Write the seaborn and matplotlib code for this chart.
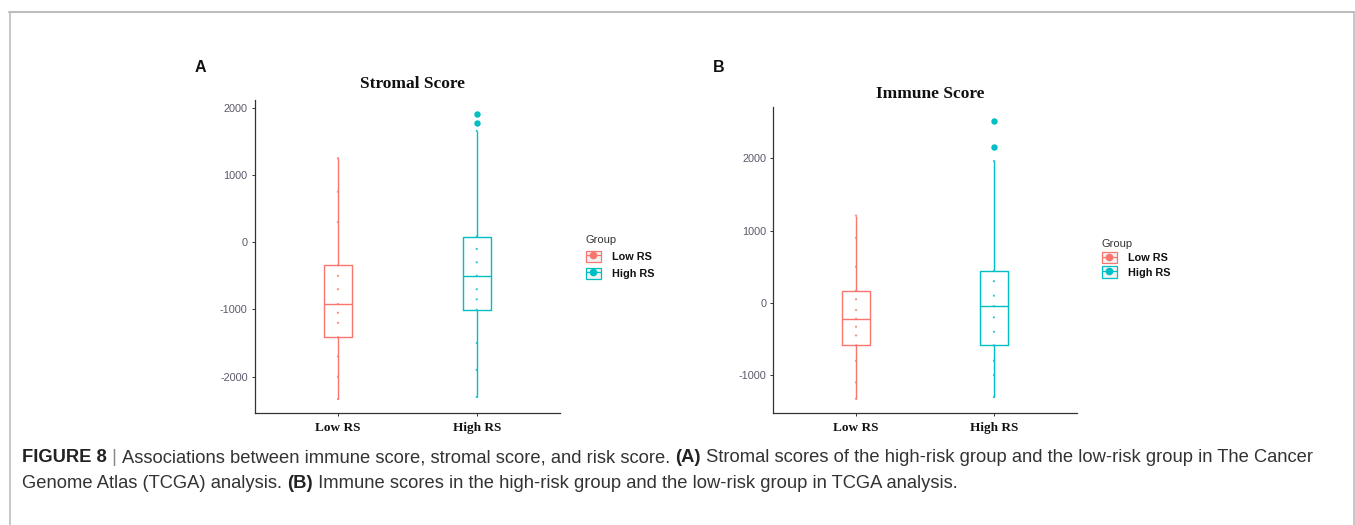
import matplotlib
matplotlib.use("Agg")
import matplotlib.pyplot as plt
from matplotlib.patches import Rectangle
from matplotlib.lines import Line2D
from matplotlib.legend_handler import HandlerTuple
import seaborn as sns
import pandas as pd

# ---------------- data ----------------
groups = ["Low RS", "High RS"]
colors = ["#F8766D", "#00BFC4"]

stromal_low = [-2333, -2000, -1700, -1415, -1200, -1050, -921, -700, -500, -345, 300, 750, 1248]
stromal_high = [-2303, -1900, -1500, -1006, -850, -700, -500, -300, -100, 83, 1654, 1768, 1902]
immune_low = [-1327, -1100, -800, -587, -450, -330, -220, -100, 50, 171, 500, 900, 1208]
immune_high = [-1303, -1000, -800, -587, -400, -200, -45, 100, 300, 441, 1963, 2155, 2522]

stromal_ticks = [-2000, -1000, 0, 1000, 2000]
immune_ticks = [-1000, 0, 1000, 2000]

titles = ["Stromal Score", "Immune Score"]
panel_labels = ["A", "B"]

W, H = 1355, 525
sns.set_theme(style="white")
plt.rcParams["font.family"] = ["Liberation Sans", "DejaVu Sans"]

fig = plt.figure(figsize=(W / 100, H / 100), dpi=100)
fig.patch.set_facecolor("white")


def fx(px):
    return px / W


def fy(py):
    return 1 - py / H


def make_df(low, high):
    return pd.DataFrame({
        "Group": [groups[0]] * len(low) + [groups[1]] * len(high),
        "Score": list(low) + list(high),
    })


panels = [
    dict(df=make_df(stromal_low, stromal_high), ticks=stromal_ticks,
         box=(254.7, 100.0, 560.0, 413.3), title_xy=(412, 84), label_xy=(200, 68),
         legend_xy=(576, 225), spacing=0.55),
    dict(df=make_df(immune_low, immune_high), ticks=immune_ticks,
         box=(773.3, 106.7, 1076.7, 412.7), title_xy=(930, 94), label_xy=(719, 68),
         legend_xy=(1092, 229), spacing=0.3),
]

for i, p in enumerate(panels):
    l, t, r, b = p["box"]
    ax = fig.add_axes([fx(l), fy(b), fx(r - l), (b - t) / H])
    df = p["df"]
    sns.boxplot(data=df, x="Group", y="Score", hue="Group", order=groups,
                hue_order=groups, palette=colors, fill=False, width=0.2,
                linewidth=1.0, whis=1.5, legend=False, ax=ax, showcaps=False,
                flierprops=dict(marker="o", markersize=3.6))
    # filled outlier points, lighter box outlines
    for ln in ax.lines:
        if ln.get_marker() == "o":
            ln.set_markerfacecolor(ln.get_markeredgecolor())
    for patch in ax.patches:
        patch.set_alpha(0.7)
    sns.stripplot(data=df, x="Group", y="Score", hue="Group", order=groups,
                  hue_order=groups, palette=colors, jitter=False, size=1.6,
                  legend=False, ax=ax, alpha=0.8)

    vals = df["Score"]
    lo, hi = vals.min(), vals.max()
    pad = 0.05 * (hi - lo)
    ax.set_ylim(lo - pad, hi + pad)
    ax.set_xlim(-0.6, 1.6)
    ax.set_yticks(p["ticks"])
    ax.set_yticklabels([str(v) for v in p["ticks"]])
    ax.set_xlabel("")
    ax.set_ylabel("")
    for side in ["top", "right"]:
        ax.spines[side].set_visible(False)
    for side in ["left", "bottom"]:
        ax.spines[side].set_color("#333333")
        ax.spines[side].set_linewidth(0.9)
    ax.tick_params(axis="y", which="major", left=True, length=2.5, width=0.7,
                   color="#333333", pad=2.5, labelsize=7.8, labelcolor="#5a5a6a")
    ax.tick_params(axis="x", which="major", bottom=True, length=2.5, width=0.7,
                   color="#333333", pad=4)
    for lab in ax.get_xticklabels():
        lab.set_fontfamily("Liberation Serif")
        lab.set_fontweight("bold")
        lab.set_fontsize(9.5)
        lab.set_color("#111111")
    ax.set_facecolor("white")

    fig.text(fx(p["title_xy"][0]), fy(p["title_xy"][1]), titles[i],
             ha="center", va="center", family="Liberation Serif",
             fontweight="bold", fontsize=12.5, color="#111111")
    fig.text(fx(p["label_xy"][0]), fy(p["label_xy"][1]), panel_labels[i],
             ha="center", va="center", fontweight="bold", fontsize=11.5,
             color="#111111")

    handles = []
    for c in colors:
        rect = Rectangle((0, 0), 1, 1, facecolor="#F2F2F2", edgecolor="none")
        box = Rectangle((0, 0), 1, 1, fill=False, edgecolor=c, lw=0.9)
        pt = Line2D([], [], color=c, marker="o", markersize=4.5, lw=0.9)
        handles.append((rect, box, pt))
    leg = ax.legend(handles, groups, title="Group", loc="upper left",
                    bbox_to_anchor=(fx(p["legend_xy"][0]), fy(p["legend_xy"][1])),
                    bbox_transform=fig.transFigure, frameon=False,
                    handler_map={tuple: HandlerTuple(ndivide=1, pad=0)},
                    handlelength=1.4, handleheight=1.2, handletextpad=1.0,
                    labelspacing=p["spacing"], alignment="left", fontsize=7.8,
                    title_fontsize=8)
    for txt in leg.get_texts():
        txt.set_fontweight("bold")
        txt.set_color("#111111")
    leg.get_title().set_color("#333333")

# ---------------- outer frame ----------------
fc = "#BDBDBD"
fig.add_artist(Line2D([fx(9), fx(1354)], [fy(12), fy(12)], color=fc, lw=1.5,
                      transform=fig.transFigure))
fig.add_artist(Line2D([fx(9.5), fx(9.5)], [fy(12), 0], color=fc, lw=1.2,
                      transform=fig.transFigure))
fig.add_artist(Line2D([fx(1353.5), fx(1353.5)], [fy(12), 0], color=fc, lw=1.2,
                      transform=fig.transFigure))

# ---------------- caption ----------------
line1 = [("FIGURE 8", "bold", "#222222"), (" | ", "normal", "#888888"),
         ("Associations between immune score, stromal score, and risk score. ", "normal", "#333333"),
         ("(A)", "bold", "#222222"),
         (" Stromal scores of the high-risk group and the low-risk group in The Cancer", "normal", "#333333")]
line2 = [("Genome Atlas (TCGA) analysis. ", "normal", "#333333"), ("(B)", "bold", "#222222"),
         (" Immune scores in the high-risk group and the low-risk group in TCGA analysis.", "normal", "#333333")]

renderer = fig.canvas.get_renderer()


def draw_line(parts, x0, y, size):
    x = x0
    arts = []
    for s, w, c in parts:
        t = fig.text(fx(x), fy(y), s, ha="left", va="center", fontsize=size,
                     fontweight=w, color=c)
        bb = t.get_window_extent(renderer=renderer)
        x += bb.width
        arts.append(t)
    return x, arts


size = 11.0
end, arts = draw_line(line1, 22, 458, size)
target = 1304
scale = (target - 22) / (end - 22)
for a in arts:
    a.remove()
size = size * scale
draw_line(line1, 22, 458, size)
draw_line(line2, 22, 483, size)

fig.savefig("out.png", dpi=100, facecolor="white")
